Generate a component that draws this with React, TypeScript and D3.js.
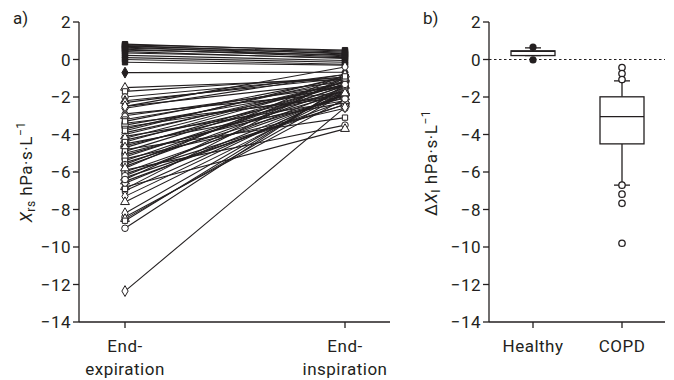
import React from "react";
import * as d3 from "d3";

// Panel a: respiratory reactance at end-expiration and end-inspiration per subject
const timepoints = ["End-expiration", "End-inspiration"];
const healthyExp = [0.82, 0.78, 0.74, 0.7, 0.66, 0.6, 0.55, 0.5, 0.42, 0.35, 0.22, 0.1, 0.0, -0.15, -0.7];
const healthyInsp = [0.45, 0.5, 0.3, 0.4, 0.2, 0.35, 0.15, 0.25, 0.05, 0.1, -0.05, -0.15, -0.25, -0.3, -0.68];
const copdExp = [
  -1.5, -1.7, -2.0, -2.9, -2.2, -2.5, -3.4, -2.3, -3.0, -4.8, -3.6, -2.6, -4.1, -3.2,
  -3.5, -2.5, -4.5, -3.3, -5.9, -3.9, -4.3, -3.7, -5.3, -4.0, -4.6, -3.8, -5.0, -4.2,
  -6.8, -4.4, -5.1, -4.7, -5.5, -4.9, -6.1, -5.2, -6.3, -5.4, -6.0, -5.7, -6.5, -5.6,
  -6.2, -6.6, -5.8, -7.0, -6.4, -7.3, -7.6, -6.9, -8.4, -8.2, -8.5, -8.6, -9.0, -12.35,
];
const copdInsp = [
  -1.07, -0.95, -0.93, -1.76, -1.0, -1.2, -2.0, -0.8, -1.4, -3.1, -1.85, -0.8, -2.2, -1.25,
  -1.45, -0.4, -2.3, -1.0, -3.5, -1.4, -1.7, -1.05, -2.6, -1.2, -1.75, -0.9, -2.05, -1.2,
  -3.7, -1.2, -1.8, -1.3, -2.0, -1.3, -2.4, -1.4, -2.4, -1.4, -1.9, -1.5, -2.2, -1.15,
  -1.6, -1.8, -0.8, -1.8, -1.0, -1.7, -1.8, -0.9, -2.1, -1.5, -1.8, -1.42, -1.33, -2.55,
];

// Panel b: change in reactance (box summaries and individual outliers)
const groups = ["Healthy", "COPD"];
const boxQ1 = [0.21, -4.5];
const boxMedian = [0.44, -3.05];
const boxQ3 = [0.46, -1.99];
const whiskerLow = [0.21, -6.7];
const whiskerHigh = [0.62, -1.14];
const healthyOutliers = [0.66, -0.02];
const copdOutliers = [-0.43, -0.75, -1.07, -6.7, -7.18, -7.67, -9.8];

const yTicks = [2, 0, -2, -4, -6, -8, -10, -12, -14];

const W = 674;
const H = 380;
const FONT = "Roboto, 'DejaVu Sans', sans-serif";
const INK = "#231f20";
const FS = 17;
const LS = 0.5;

const y = d3.scaleLinear().domain([-14, 2]).range([322, 22]);

const xa = d3.scalePoint<string>().domain(timepoints).range([125, 345]);
const xb = d3.scalePoint<string>().domain(groups).range([533, 622]);

const symbolTypes = [d3.symbolTriangle, d3.symbolSquare, d3.symbolCircle, d3.symbolDiamond];

function fmt(v: number) {
  return v < 0 ? "\u2212" + Math.abs(v) : String(v);
}

function YAxis({ x0 }: { x0: number }) {
  return (
    <g>
      <line x1={x0} x2={x0} y1={y(2)} y2={y(-14)} stroke={INK} strokeWidth={1.3} />
      {yTicks.map((t) => (
        <g key={t}>
          <line x1={x0 - 6} x2={x0} y1={y(t)} y2={y(t)} stroke={INK} strokeWidth={1.3} />
          <text x={x0 - 8} y={y(t)} dy="0.36em" textAnchor="end" fontSize={FS} letterSpacing={LS} fill={INK}>
            {fmt(t)}
          </text>
        </g>
      ))}
    </g>
  );
}

export default function App() {
  const sym = (type: d3.SymbolType, size: number) => d3.symbol().type(type).size(size)() as string;

  const subjects = [
    ...healthyExp.map((e, i) => ({
      e,
      i: healthyInsp[i],
      filled: true,
      type: i === healthyExp.length - 1 ? d3.symbolDiamond : d3.symbolSquare,
    })),
    ...copdExp.map((e, i) => ({
      e,
      i: copdInsp[i],
      filled: false,
      type: symbolTypes[i % symbolTypes.length],
    })),
  ];

  const x0 = xa(timepoints[0])!;
  const x1 = xa(timepoints[1])!;
  const axA = 79;
  const axB = 489;
  const bw = 44;

  return (
    <svg width={W} height={H} style={{ position: "absolute", left: 0, top: 0, fontFamily: FONT }}>
      <rect width={W} height={H} fill="#fff" />

      {/* panel a */}
      <text x={13} y={24} fontSize={FS} fill={INK}>a)</text>
      <YAxis x0={axA} />
      <line x1={axA} x2={390} y1={y(-14)} y2={y(-14)} stroke={INK} strokeWidth={1.3} />
      {timepoints.map((t) => {
        const [w1, w2] = t.split("-");
        return (
          <g key={t}>
            <line x1={xa(t)} x2={xa(t)} y1={y(-14)} y2={y(-14) + 6} stroke={INK} strokeWidth={1.3} />
            <text x={xa(t)} y={352} textAnchor="middle" fontSize={FS} letterSpacing={LS} fill={INK}>{w1 + "-"}</text>
            <text x={xa(t)} y={375} textAnchor="middle" fontSize={FS} letterSpacing={LS} fill={INK}>{w2}</text>
          </g>
        );
      })}
      <text transform={`translate(32,172) rotate(-90)`} textAnchor="middle" fontSize={FS} letterSpacing={LS} fill={INK}>
        <tspan fontStyle="italic">X</tspan>
        <tspan fontSize={12} dy={3}>rs</tspan>
        <tspan dy={-3}> hPa·s·L</tspan>
        <tspan fontSize={12} dy={-7}>−1</tspan>
      </text>

      {subjects.map((s, k) => (
        <line key={"l" + k} x1={x0} x2={x1} y1={y(s.e)} y2={y(s.i)} stroke={INK} strokeWidth={1.1} />
      ))}
      {subjects.map((s, k) => (
        <g key={"m" + k}>
          <path
            d={sym(s.type, s.type === d3.symbolSquare ? 28 : 34)}
            transform={`translate(${x0},${y(s.e)})`}
            fill={s.filled ? INK : "#fff"}
            stroke={INK}
            strokeWidth={1}
          />
          <path
            d={sym(s.type, s.type === d3.symbolSquare ? 28 : 34)}
            transform={`translate(${x1},${y(s.i)})`}
            fill={s.filled ? INK : "#fff"}
            stroke={INK}
            strokeWidth={1}
          />
        </g>
      ))}

      {/* panel b */}
      <text x={423} y={24} fontSize={FS} fill={INK}>b)</text>
      <YAxis x0={axB} />
      <line x1={axB} x2={665} y1={y(-14)} y2={y(-14)} stroke={INK} strokeWidth={1.3} />
      <line x1={axB} x2={665} y1={y(0)} y2={y(0)} stroke={INK} strokeWidth={1.2} strokeDasharray="2.5,2.5" />
      <text transform={`translate(437,163) rotate(-90)`} textAnchor="middle" fontSize={FS} letterSpacing={LS} fill={INK}>
        <tspan>Δ</tspan>
        <tspan fontStyle="italic">X</tspan>
        <tspan fontSize={12} dy={3}>I</tspan>
        <tspan dy={-3}> hPa·s·L</tspan>
        <tspan fontSize={12} dy={-7}>−1</tspan>
      </text>
      {groups.map((g, gi) => {
        const cx = xb(g)!;
        return (
          <g key={g}>
            <line x1={cx} x2={cx} y1={y(-14)} y2={y(-14) + 6} stroke={INK} strokeWidth={1.3} />
            <text x={cx} y={352} textAnchor="middle" fontSize={FS} letterSpacing={LS} fill={INK}>{g}</text>
            <line x1={cx} x2={cx} y1={y(whiskerHigh[gi])} y2={y(boxQ3[gi])} stroke={INK} strokeWidth={1.3} />
            <line x1={cx} x2={cx} y1={y(boxQ1[gi])} y2={y(whiskerLow[gi])} stroke={INK} strokeWidth={1.3} />
            <line x1={cx - 8} x2={cx + 8} y1={y(whiskerHigh[gi])} y2={y(whiskerHigh[gi])} stroke={INK} strokeWidth={1.3} />
            <line x1={cx - 8} x2={cx + 8} y1={y(whiskerLow[gi])} y2={y(whiskerLow[gi])} stroke={INK} strokeWidth={1.3} />
            <rect
              x={cx - bw / 2}
              y={y(boxQ3[gi])}
              width={bw}
              height={y(boxQ1[gi]) - y(boxQ3[gi])}
              fill="#fff"
              stroke={INK}
              strokeWidth={1.3}
            />
            <line x1={cx - bw / 2} x2={cx + bw / 2} y1={y(boxMedian[gi])} y2={y(boxMedian[gi])} stroke={INK} strokeWidth={1.3} />
          </g>
        );
      })}
      {healthyOutliers.map((v, k) => (
        <circle key={"ho" + k} cx={xb("Healthy")} cy={y(v)} r={3.6} fill={INK} />
      ))}
      {copdOutliers.map((v, k) => (
        <circle key={"co" + k} cx={xb("COPD")} cy={y(v)} r={3.2} fill="#fff" stroke={INK} strokeWidth={1.3} />
      ))}
    </svg>
  );
}
